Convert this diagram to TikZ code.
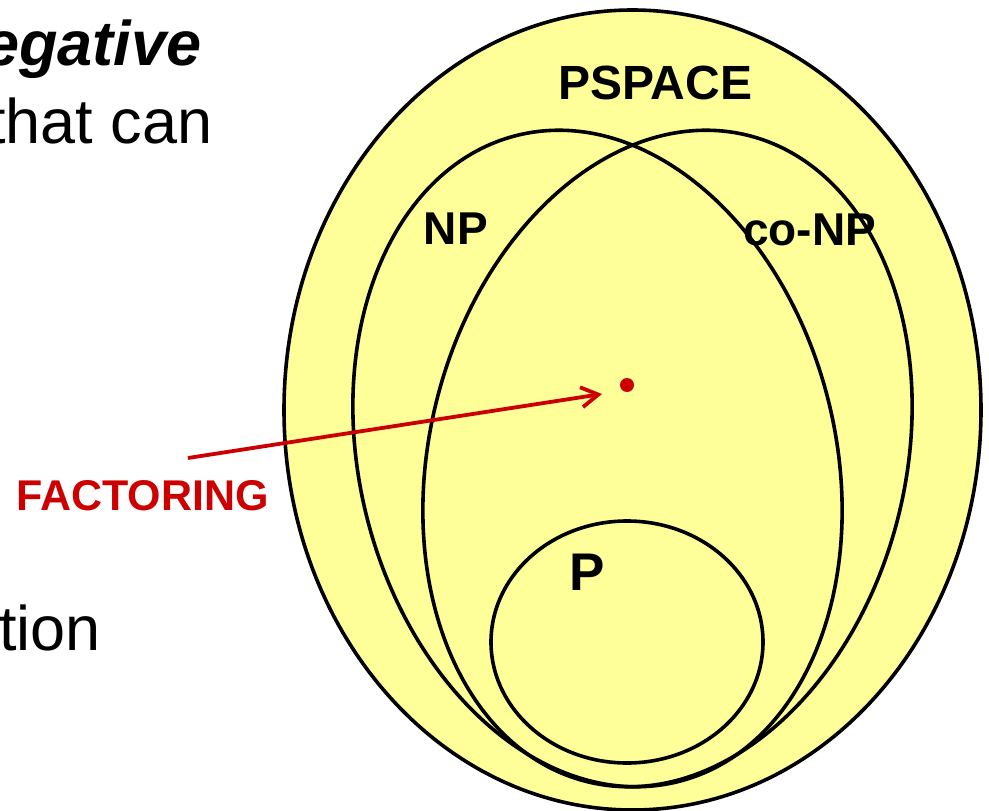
\documentclass[tikz,border=0pt]{standalone}
\usepackage{fontspec}
\setmainfont{Liberation Sans}
\usetikzlibrary{arrows.meta}
\definecolor{eggfill}{RGB}{255,255,153}
\definecolor{factred}{RGB}{204,0,0}
\begin{document}
\begin{tikzpicture}[x=1pt,y=-1pt,
  setline/.style={draw=black,line width=3.6pt},
  setlbl/.style={font=\bfseries\fontsize{46}{50}\selectfont, inner sep=0pt, anchor=base west},
  bodytxt/.style={font=\fontsize{63}{70}\selectfont, inner sep=0pt, anchor=base west},
  pointer/.style={draw=factred, line width=3.8pt, -{Straight Barb[length=17pt,width=20pt]}}]
\useasboundingbox (0,0) rectangle (989,811);
% body text fragments
\node[bodytxt, font=\bfseries\itshape\fontsize{63}{70}\selectfont] (t1) at (-16,65) {egative};
\node[bodytxt] (t2) at (-12,143) {that can};
\node[bodytxt] (t3) at (-1,650) {tion};
% classes
\path[setline, fill=eggfill] (632.5,410) ellipse [x radius=348.5, y radius=400];
\draw[setline, rotate around={14:(597.5,458.5)}] (597.5,458.5) ellipse [x radius=238, y radius=333];
\draw[setline, rotate around={-14:(667.5,458.5)}] (667.5,458.5) ellipse [x radius=238, y radius=333];
\draw[setline] (627,642) ellipse [x radius=136, y radius=121];
% labels
\node[setlbl, font=\bfseries\fontsize{48}{52}\selectfont] (pspace) at (558,99) {PSPACE};
\node[setlbl] (np) at (423.6,244) {NP};
\node[setlbl] (conp) at (743,245) {co-NP};
\node[setlbl, font=\bfseries\fontsize{53}{56}\selectfont] (p) at (569,590) {P};
\node[setlbl, font=\bfseries\fontsize{43}{46}\selectfont, text=factred] (factoring) at (16,510) {FACTORING};
% factoring point and arrow
\node[circle, fill=factred, inner sep=0pt, minimum size=14pt] (dot) at (627,385) {};
\coordinate (arrstart) at (188,458);
\coordinate (arrtip) at (602,394);
\draw[pointer] (arrstart) -- (arrtip);
\end{tikzpicture}
\end{document}
